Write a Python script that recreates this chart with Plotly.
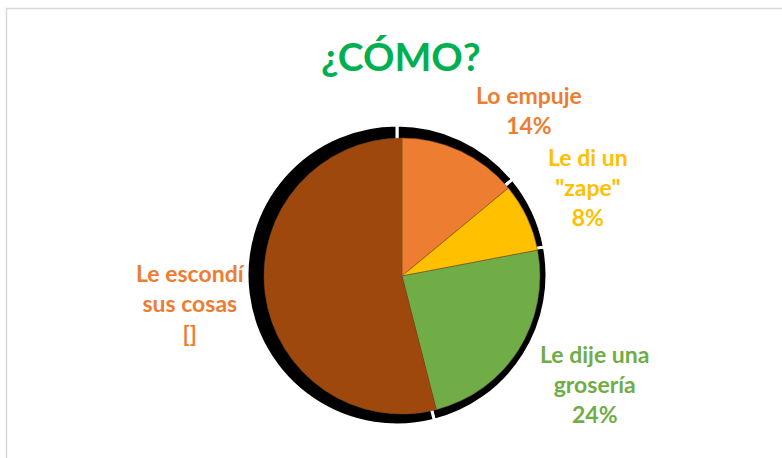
import plotly.graph_objects as go

W, H = 782, 458

# data
categories = ['Lo empuje', 'Le di un "zape"', 'Le dije una grosería', 'Le escondí sus cosas']
values = [14, 8, 24, 54]
label_texts = ['Lo empuje<br>14%', 'Le di un<br>"zape"<br>8%',
               'Le dije una<br>grosería<br>24%', 'Le escondí<br>sus cosas<br>[]']

slice_colors = ['#ED7D31', '#FFC000', '#70AD47', '#9E480E']
label_colors = ['#ED7D31', '#FFC000', '#70AD47', '#ED7D31']
# label centres in pixels (x, y from top)
label_pos = [(529, 110), (588, 187), (594, 384), (190, 303)]

FONT = 'Lato'


def dom(cx, cy, r):
    return dict(x=[(cx - r) / W, (cx + r) / W],
                y=[(H - cy - r) / H, (H - cy + r) / H])


fig = go.Figure()

# black shadow behind the pie
fig.add_trace(go.Pie(
    labels=categories, values=values, sort=False, direction='clockwise',
    rotation=0, domain=dom(397, 275, 150),
    marker=dict(colors=['#000000'] * 4, line=dict(color='#FFFFFF', width=3)),
    textinfo='none', hoverinfo='skip', showlegend=False,
))

fig.add_trace(go.Pie(
    labels=categories, values=values, sort=False, direction='clockwise',
    rotation=0, domain=dom(402, 276, 138),
    marker=dict(colors=slice_colors, line=dict(color='#7F4A20', width=0.5)),
    textinfo='none', showlegend=False,
))

for txt, col, (x, y) in zip(label_texts, label_colors, label_pos):
    fig.add_annotation(
        x=x / W, y=1 - y / H, xref='paper', yref='paper',
        text='<b>%s</b>' % txt, showarrow=False, align='center',
        xanchor='center', yanchor='middle',
        font=dict(family=FONT, size=23, color=col),
    )

fig.add_annotation(
    x=401 / W, y=1 - 56 / H, xref='paper', yref='paper',
    text='<b>¿CÓMO?</b>', showarrow=False, xanchor='center', yanchor='middle',
    font=dict(family=FONT, size=39, color='#00B050'),
)

# chart area frame
fig.add_shape(type='rect', xref='paper', yref='paper',
              x0=6.5 / W, x1=1.02, y0=-0.02, y1=1 - 8.5 / H,
              line=dict(color='#D9D9D9', width=1.5))

fig.update_layout(
    width=W, height=H,
    margin=dict(l=0, r=0, t=0, b=0),
    paper_bgcolor='#FFFFFF', plot_bgcolor='#FFFFFF',
)

# drop the page margin so the figure sits at the window corner
fig.write_html("out.html", config={'displayModeBar': False},
               post_script="document.body.style.margin='0';")
